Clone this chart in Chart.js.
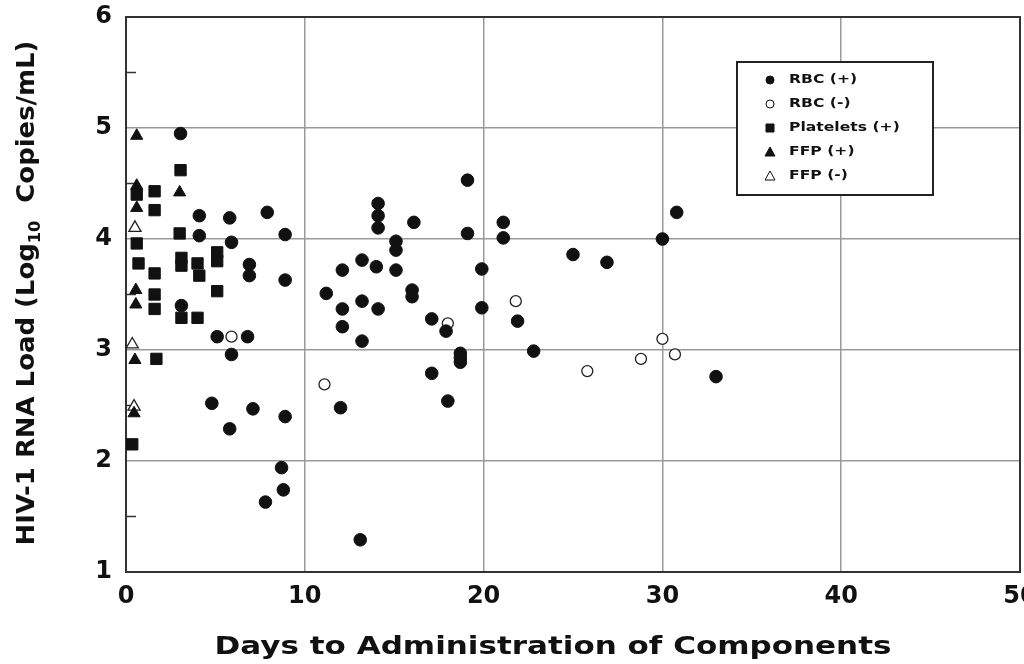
<!DOCTYPE html>
<html>
<head>
<meta charset="utf-8">
<script src="https://cdn.jsdelivr.net/npm/chart.js@4.4.1/dist/chart.umd.min.js"></script>
<style>
  html, body { margin: 0; padding: 0; background: #fff; }
  #wrap { width: 1024px; height: 664px; }
</style>
</head>
<body>
<div id="wrap"><canvas id="hivChart" width="1024" height="664"></canvas></div>
<script>
// values (days, log10 copies/mL)
const rbcPosDays = [3.05, 4.1, 5.8, 4.1, 7.9, 8.9, 3.1, 5.9, 6.9, 6.9, 8.9, 5.1, 6.8, 5.9, 4.8, 7.1, 8.9, 5.8, 8.7, 8.8, 7.8, 13.1,
  14.1, 14.1, 14.1, 16.1, 15.1, 15.1, 13.2, 12.1, 14.0, 15.1, 11.2, 16.0, 16.0, 13.2, 12.1, 14.1, 12.1, 13.2,
  19.1, 21.1, 21.1, 19.1, 19.9, 19.9, 21.9, 17.1, 17.9, 18.7, 18.7, 18.7, 22.8, 17.1, 12.0, 18.0,
  30.8, 30.0, 25.0, 26.9, 33.0];
const rbcPosLoad = [4.95, 4.21, 4.19, 4.03, 4.24, 4.04, 3.40, 3.97, 3.77, 3.67, 3.63, 3.12, 3.12, 2.96, 2.52, 2.47, 2.40, 2.29, 1.94, 1.74, 1.63, 1.29,
  4.32, 4.21, 4.10, 4.15, 3.98, 3.90, 3.81, 3.72, 3.75, 3.72, 3.51, 3.54, 3.48, 3.44, 3.37, 3.37, 3.21, 3.08,
  4.53, 4.15, 4.01, 4.05, 3.73, 3.38, 3.26, 3.28, 3.17, 2.97, 2.93, 2.89, 2.99, 2.79, 2.48, 2.54,
  4.24, 4.00, 3.86, 3.79, 2.76];

const rbcNegDays = [5.9, 11.1, 18.0, 21.8, 25.8, 28.8, 30.0, 30.7];
const rbcNegLoad = [3.12, 2.69, 3.24, 3.44, 2.81, 2.92, 3.10, 2.96];

const pltPosDays = [0.6, 1.6, 3.05, 1.6, 3.0, 0.6, 0.7, 3.1, 3.1, 4.0, 1.6, 4.1, 5.1, 5.1, 5.1, 1.6, 1.6, 3.1, 4.0, 1.7, 0.35];
const pltPosLoad = [4.40, 4.43, 4.62, 4.26, 4.05, 3.96, 3.78, 3.83, 3.76, 3.78, 3.69, 3.67, 3.88, 3.80, 3.53, 3.50, 3.37, 3.29, 3.29, 2.92, 2.15];

const ffpPosDays = [0.6, 0.6, 0.6, 3.0, 0.55, 0.55, 0.5, 0.45];
const ffpPosLoad = [4.93, 4.48, 4.28, 4.42, 3.54, 3.41, 2.91, 2.43];

const ffpNegDays = [0.5, 0.35, 0.45];
const ffpNegLoad = [4.10, 3.05, 2.49];

const seriesNames = ["RBC (+)", "RBC (-)", "Platelets (+)", "FFP (+)", "FFP (-)"];
const xTicks = [0, 10, 20, 30, 40, 50];
const yTicks = [1, 2, 3, 4, 5, 6];
const xTitle = "Days to Administration of Components";

function toPoints(xs, ys) {
  return xs.map((x, i) => ({ x: x, y: ys[i] }));
}

const tickFont = { family: "'DejaVu Sans', sans-serif", size: 24, weight: "bold" };

// draws the frame and minor ticks under the markers
const framePlugin = {
  id: "frame",
  beforeDatasetsDraw(chart) {
    const { ctx, chartArea: a, scales } = chart;
    ctx.save();
    ctx.strokeStyle = "#333";
    ctx.lineWidth = 2;
    ctx.strokeRect(a.left, a.top, a.right - a.left, a.bottom - a.top);
    // small half-unit ticks on the left axis
    ctx.lineWidth = 1.5;
    [1.5, 2.5, 3.5, 4.5, 5.5].forEach(v => {
      const y = scales.y.getPixelForValue(v);
      ctx.beginPath();
      ctx.moveTo(a.left, y);
      ctx.lineTo(a.left + 10, y);
      ctx.stroke();
    });
    ctx.restore();
  }
};

// axis titles (the scan is stretched sideways, so text is widened a bit) and the boxed legend
const extrasPlugin = {
  id: "extras",
  afterDraw(chart) {
    const ctx = chart.ctx;
    const big = "bold 24px 'DejaVu Sans', sans-serif";
    const small = "bold 15px 'DejaVu Sans', sans-serif";

    // x axis title
    ctx.save();
    ctx.font = "bold 25px 'DejaVu Sans', sans-serif";
    ctx.fillStyle = "#111";
    ctx.textAlign = "center";
    ctx.textBaseline = "middle";
    ctx.translate(553, 647);
    ctx.scale(1.24, 1);
    ctx.fillText(xTitle, 0, 0);
    ctx.restore();

    // y axis title
    ctx.save();
    const p1 = "HIV-1 RNA Load (Log", p2 = "10", p3 = "  Copies/mL)";
    ctx.font = big;
    const w1 = ctx.measureText(p1).width, w3 = ctx.measureText(p3).width;
    ctx.font = small;
    const w2 = ctx.measureText(p2).width;
    const total = w1 + w2 + w3;
    ctx.translate(28, 293);
    ctx.rotate(-Math.PI / 2);
    ctx.scale(1.08, 1);
    ctx.fillStyle = "#111";
    ctx.textBaseline = "middle";
    ctx.textAlign = "left";
    let x = -total / 2;
    ctx.font = big; ctx.fillText(p1, x, 0); x += w1;
    ctx.font = small; ctx.fillText(p2, x, 8); x += w2;
    ctx.font = big; ctx.fillText(p3, x, 0);
    ctx.restore();

    // legend box
    ctx.save();
    const bx = 737, by = 62, bw = 196, bh = 133;
    ctx.fillStyle = "#fff";
    ctx.fillRect(bx, by, bw, bh);
    ctx.strokeStyle = "#222";
    ctx.lineWidth = 2;
    ctx.strokeRect(bx, by, bw, bh);
    ctx.textBaseline = "middle";
    chart.data.datasets.forEach((ds, i) => {
      const cy = by + 18 + i * 24;
      const cx = bx + 33;
      ctx.fillStyle = ds.backgroundColor;
      ctx.strokeStyle = "#111";
      ctx.lineWidth = 1;
      ctx.beginPath();
      if (ds.pointStyle === "circle") {
        ctx.arc(cx, cy, 4, 0, Math.PI * 2);
      } else if (ds.pointStyle === "rect") {
        ctx.rect(cx - 4, cy - 4, 8, 8);
      } else {
        ctx.moveTo(cx, cy - 5);
        ctx.lineTo(cx + 5, cy + 4);
        ctx.lineTo(cx - 5, cy + 4);
        ctx.closePath();
      }
      ctx.fill();
      ctx.stroke();
      ctx.save();
      ctx.fillStyle = "#111";
      ctx.font = "bold 12px 'DejaVu Sans', sans-serif";
      ctx.translate(cx + 19, cy);
      ctx.scale(1.3, 1);
      ctx.fillText(ds.label, 0, 0);
      ctx.restore();
    });
    ctx.restore();
  }
};

const ctx = document.getElementById("hivChart").getContext("2d");
const hivChart = new Chart(ctx, {
  type: "scatter",
  data: {
    datasets: [
      { label: seriesNames[0], data: toPoints(rbcPosDays, rbcPosLoad), pointStyle: "circle", pointRadius: 6.3,
        backgroundColor: "#111", borderColor: "#111", borderWidth: 1 },
      { label: seriesNames[1], data: toPoints(rbcNegDays, rbcNegLoad), pointStyle: "circle", pointRadius: 5.5,
        backgroundColor: "#fff", borderColor: "#222", borderWidth: 1.3 },
      { label: seriesNames[2], data: toPoints(pltPosDays, pltPosLoad), pointStyle: "rect", pointRadius: 8,
        backgroundColor: "#111", borderColor: "#111", borderWidth: 1 },
      { label: seriesNames[3], data: toPoints(ffpPosDays, ffpPosLoad), pointStyle: "triangle", pointRadius: 7,
        backgroundColor: "#111", borderColor: "#111", borderWidth: 1 },
      { label: seriesNames[4], data: toPoints(ffpNegDays, ffpNegLoad), pointStyle: "triangle", pointRadius: 7,
        backgroundColor: "#fff", borderColor: "#222", borderWidth: 1.3 }
    ]
  },
  options: {
    responsive: false,
    animation: false,
    layout: { autoPadding: false, padding: { left: 0, right: 4, top: 17, bottom: 0 } },
    plugins: { legend: { display: false }, tooltip: { enabled: false } },
    scales: {
      x: {
        type: "linear", min: 0, max: 50,
        afterBuildTicks: s => { s.ticks = xTicks.map(v => ({ value: v })); },
        afterFit: s => { s.height = 92; s.paddingLeft = 0; s.paddingRight = 0; },
        ticks: { font: tickFont, color: "#111", padding: 10 },
        grid: { color: "#999", lineWidth: 1.5, drawTicks: false },
        border: { display: false }
      },
      y: {
        type: "linear", min: 1, max: 6,
        afterBuildTicks: s => { s.ticks = yTicks.map(v => ({ value: v })); },
        afterFit: s => { s.width = 126; s.paddingTop = 0; s.paddingBottom = 0; },
        ticks: { font: tickFont, color: "#111", padding: 14 },
        grid: { color: "#999", lineWidth: 1.5, drawTicks: false },
        border: { display: false }
      }
    }
  },
  plugins: [framePlugin, extrasPlugin]
});
</script>
</body>
</html>
